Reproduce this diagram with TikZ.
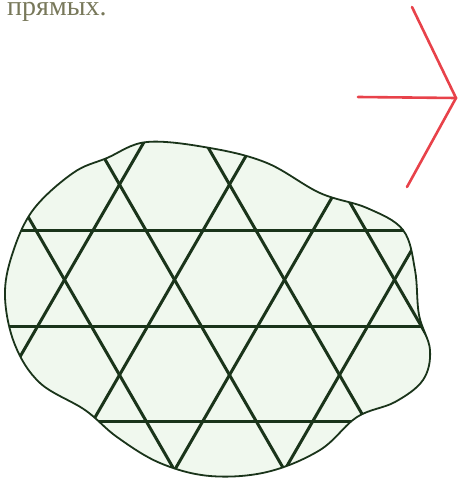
\documentclass[tikz,border=0pt]{standalone}
\usepackage{fontspec}
\setmainfont{Liberation Serif}
\definecolor{gridgreen}{RGB}{26,52,26}
\definecolor{blobfill}{RGB}{240,248,238}
\definecolor{arrowred}{RGB}{232,66,74}
\definecolor{textgray}{RGB}{120,120,90}
\tikzset{
  gridline/.style={draw=gridgreen, line width=3pt},
  blobline/.style={draw=gridgreen, line width=1.8pt},
  redline/.style={draw=arrowred, line width=2.6pt, line cap=round, line join=miter},
}
\begin{document}
\begin{tikzpicture}[x=1pt, y=-1pt]
\path[use as bounding box] (0,0) rectangle (458,481);
\node[anchor=base west, inner sep=0pt, text=textgray, font=\fontsize{28}{30}\selectfont] (caption) at (7,16) {прямых.};
% blob
\def\blobpath{plot[smooth cycle, tension=0.6] coordinates {
 (147,142) (210,148) (267,163) (320,193) (367,208) (403,230) (415,270)
 (419,315) (430,350) (423,380) (395,402) (357,417) (320,450) (267,472)
 (210,476) (160,463) (117,437) (85,410) (40,383) (15,345) (5,297)
 (12,255) (33,210) (73,173) (107,158)}}
\fill[blobfill] \blobpath;
\begin{scope}
\clip \blobpath;
\foreach \c in {-97,13,123,233} \draw[gridline] ({\c+57.7},100) -- ({\c+288.7},500);
\foreach \d in {226,336,446,556} \draw[gridline] ({\d-57.7},100) -- ({\d-288.7},500);
\foreach \h in {230,326,421} \draw[gridline] (-10,\h) -- (470,\h);
\end{scope}
\draw[blobline] \blobpath;
% red arrow
\draw[redline] (412,7) -- (456,98) -- (407,187);
\draw[redline] (358,97) -- (456,98);
\end{tikzpicture}
\end{document}
